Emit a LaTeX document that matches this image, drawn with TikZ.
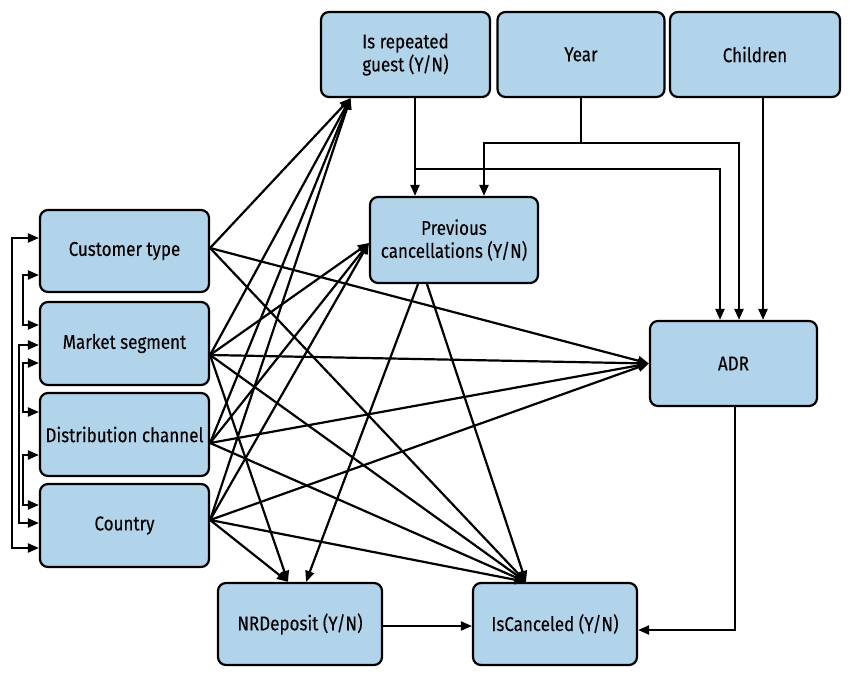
\documentclass[tikz,border=0pt]{standalone}
\usepackage{fontspec}
\setmainfont{Fira Sans}[FakeStretch=0.85, FakeBold=0.15]
\usetikzlibrary{arrows.meta}
\definecolor{boxblue}{RGB}{178,212,234}
\begin{document}
\begin{tikzpicture}[x=1pt,y=-1pt,
  bx/.style={draw, line width=2.2pt, fill=boxblue, rounded corners=8pt, align=center, inner sep=0pt, font=\fontsize{20}{23}\selectfont},
  arr/.style={line width=2.2pt, -{Triangle[length=11pt,width=9pt]}},
  arr2/.style={line width=2.2pt, {Triangle[length=11pt,width=9pt]}-{Triangle[length=11pt,width=9pt]}},
  ln/.style={line width=2.2pt}]
\useasboundingbox (0,0) rectangle (849,677);
% nodes
\node[bx, minimum width=169pt, minimum height=82pt] (CT) at (124.5,251) {Customer type};
\node[bx, minimum width=169pt, minimum height=83pt] (MS) at (124.5,343.5) {Market segment};
\node[bx, minimum width=169pt, minimum height=83pt] (DC) at (124.5,434.5) {Distribution channel};
\node[bx, minimum width=169pt, minimum height=83pt] (CO) at (124.5,525.5) {Country};
\node[bx, minimum width=169pt, minimum height=85pt] (IRG) at (405.5,54.5) {Is repeated\\guest (Y/N)};
\node[bx, minimum width=167pt, minimum height=85pt] (YR) at (581,54.5) {Year};
\node[bx, minimum width=170pt, minimum height=85pt] (CH) at (755,54.5) {Children};
\node[bx, minimum width=168pt, minimum height=86pt] (PC) at (454,240) {Previous\\cancellations (Y/N)};
\node[bx, minimum width=167pt, minimum height=85pt] (ADR) at (733.5,363.5) {ADR};
\node[bx, minimum width=164pt, minimum height=82pt] (NRD) at (300,624) {NRDeposit (Y/N)};
\node[bx, minimum width=164pt, minimum height=82pt] (IC) at (555,624) {IsCanceled (Y/N)};
% source / target points
\coordinate (sCT) at ([yshift=3pt]CT.east);
\coordinate (sMS) at ([yshift=-11.5pt]MS.east);
\coordinate (sDC) at ([yshift=-8.5pt]DC.east);
\coordinate (sCO) at ([yshift=5.5pt]CO.east);
\coordinate (tIRG) at ([xshift=-55pt]IRG.south);
\coordinate (tPC) at ([yshift=-3pt]PC.west);
\coordinate (tNRDa) at ([xshift=-12pt]NRD.north);
\coordinate (tNRDb) at ([xshift=6pt]NRD.north);
\coordinate (tIC) at ([xshift=-29pt]IC.north);
% fan edges
\draw[arr] (sCT) -- (tIRG);
\draw[arr] (sCT) -- (ADR.west);
\draw[arr] (sCT) -- (tIC);
\draw[arr] (sMS) -- (tIRG);
\draw[arr] (sMS) -- (tPC);
\draw[arr] (sMS) -- (ADR.west);
\draw[arr] (sMS) -- (tNRDa);
\draw[arr] (sMS) -- (tIC);
\draw[arr] (sDC) -- (tIRG);
\draw[arr] (sDC) -- (tPC);
\draw[arr] (sDC) -- (ADR.west);
\draw[arr] (sDC) -- (tIC);
\draw[arr] (sCO) -- (tIRG);
\draw[arr] (sCO) -- (tPC);
\draw[arr] (sCO) -- (ADR.west);
\draw[arr] (sCO) -- (tNRDa);
\draw[arr] (sCO) -- (tIC);
\draw[arr] ([xshift=-36pt]PC.south) -- (tNRDb);
\draw[arr] ([xshift=-27pt]PC.south) -- (tIC);
% top connectors
\draw[arr] ([xshift=9.5pt]IRG.south) -- ([xshift=-39pt]PC.north);
\coordinate (j1) at (415,169);
\draw[arr] (j1) -| ([xshift=-13.5pt]ADR.north);
\coordinate (j2) at (581,143);
\draw[ln] (YR.south) -- (j2);
\draw[arr] (j2) -| ([xshift=30pt]PC.north);
\draw[arr] (j2) -| ([xshift=5.5pt]ADR.north);
\draw[arr] ([xshift=8pt]CH.south) -- ([xshift=29.5pt]ADR.north);
\draw[arr] ([xshift=1.5pt]ADR.south) |- ([yshift=-6pt]IC.east);
\draw[arr] ([yshift=-2pt]NRD.east) -- ([yshift=-2pt]IC.west);
% left brackets
\draw[arr2] ([yshift=13pt]CT.west) -- ++(-27pt,0) |- ([yshift=-22.5pt]CO.west);
\draw[arr2] ([yshift=-24pt]CT.west) -- ++(-16pt,0) |- ([yshift=18.5pt]MS.west);
\draw[arr2] ([yshift=-1.5pt]MS.west) -- ++(-20pt,0) |- ([yshift=2.5pt]CO.west);
\draw[arr2] ([yshift=-19.5pt]MS.west) -- ++(-16pt,0) |- ([yshift=22.5pt]DC.west);
\draw[arr2] ([yshift=-20.5pt]DC.west) -- ++(-16pt,0) |- ([yshift=20.5pt]CO.west);
\end{tikzpicture}
\end{document}
